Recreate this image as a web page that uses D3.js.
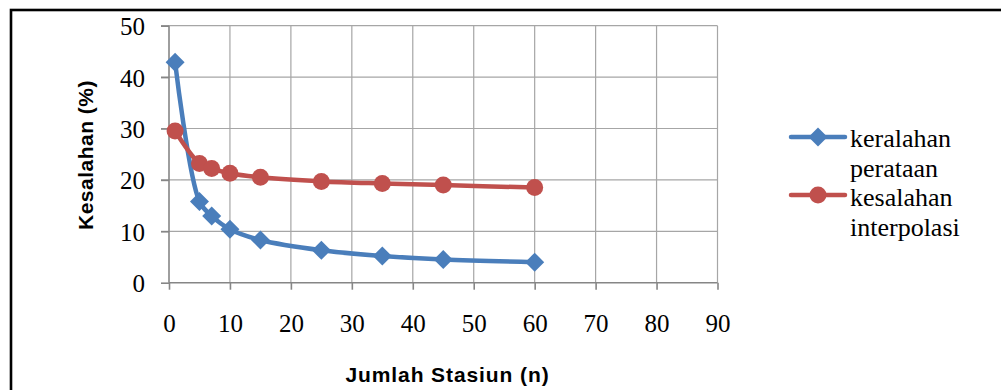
<!DOCTYPE html>
<html><head><meta charset="utf-8">
<script src="https://cdn.jsdelivr.net/npm/d3@7"></script>
<style>body{margin:0;background:#fff;} svg{display:block;}</style>
</head><body>
<svg id="c" width="1001" height="390"></svg>
<script>
const stations = [1, 5, 7, 10, 15, 25, 35, 45, 60];
const perataan = [42.9, 15.8, 13.0, 10.4, 8.3, 6.3, 5.2, 4.5, 4.0];
const interpolasi = [29.5, 23.2, 22.2, 21.3, 20.5, 19.7, 19.3, 19.0, 18.5];
const seriesNames = ["keralahan perataan", "kesalahan interpolasi"];
const legendLines = [["keralahan", "perataan"], ["kesalahan", "interpolasi"]];
const xTicks = [0, 10, 20, 30, 40, 50, 60, 70, 80, 90];
const yTicks = [0, 10, 20, 30, 40, 50];
const xTitle = "Jumlah Stasiun (n)";
const yTitle = "Kesalahan (%)";

const svg = d3.select("#c");
const blue = "#4A7EBB", red = "#C0504D";
const x = d3.scaleLinear().domain([0, 90]).range([169, 717.5]);
const y = d3.scaleLinear().domain([0, 50]).range([282.7, 25.7]);

// outer border
svg.append("rect").attr("x", 11).attr("y", 10).attr("width", 1010).attr("height", 400)
  .attr("fill", "none").attr("stroke", "#000").attr("stroke-width", 2.6);

// gridlines
svg.append("g").selectAll("line").data(yTicks.filter(d => d > 0)).join("line")
  .attr("x1", 161).attr("x2", x(90)).attr("y1", d => y(d)).attr("y2", d => y(d))
  .attr("stroke", "#a6a6a6").attr("stroke-width", 1.2);
svg.append("g").selectAll("line").data(xTicks.filter(d => d > 0)).join("line")
  .attr("x1", d => x(d)).attr("x2", d => x(d)).attr("y1", y(50)).attr("y2", y(0))
  .attr("stroke", "#a6a6a6").attr("stroke-width", 1.2);

// axes
const xAxis = d3.axisBottom(x).tickValues(xTicks).tickSize(7).tickFormat(d3.format("d"));
const gx = svg.append("g").attr("transform", `translate(0,${y(0)})`).call(xAxis);
gx.select(".domain").attr("stroke", "#868686").attr("stroke-width", 1.6).attr("d", `M${x(0)},0H${x(90)}`);
gx.selectAll(".tick line").attr("stroke", "#868686").attr("stroke-width", 1.6);
gx.selectAll(".tick text").attr("font-family", "Liberation Serif, Times New Roman, serif")
  .attr("font-size", 25).attr("fill", "#000").attr("y", 0).attr("dy", 0)
  .attr("transform", "translate(0,49)");

const yAxis = d3.axisLeft(y).tickValues(yTicks).tickSize(8).tickFormat(d3.format("d"));
const gy = svg.append("g").attr("transform", `translate(${x(0)},0)`).call(yAxis);
gy.select(".domain").attr("stroke", "#868686").attr("stroke-width", 1.6).attr("d", `M0,${y(50)}V${y(0)}`);
gy.selectAll(".tick line").attr("stroke", "#868686").attr("stroke-width", 1.6);
gy.selectAll(".tick text").attr("font-family", "Liberation Serif, Times New Roman, serif")
  .attr("font-size", 25).attr("fill", "#000").attr("x", -24).attr("dy", 0)
  .attr("transform", "translate(0,9)");

// titles
svg.append("text").attr("x", 447.5).attr("y", 382).attr("text-anchor", "middle")
  .attr("font-family", "Liberation Sans, Arial, sans-serif").attr("font-weight", "bold")
  .attr("font-size", 21).attr("letter-spacing", 0.9).text(xTitle);
svg.append("text").attr("transform", "translate(93,155) rotate(-90)").attr("text-anchor", "middle")
  .attr("font-family", "Liberation Sans, Arial, sans-serif").attr("font-weight", "bold")
  .attr("font-size", 21).attr("letter-spacing", 0.5).text(yTitle);

// series
const line = d3.line().x(d => x(d[0])).y(d => y(d[1])).curve(d3.curveCatmullRom.alpha(0.5));
const data = [
  {vals: stations.map((s, i) => [s, perataan[i]]), color: blue, sym: "diamond"},
  {vals: stations.map((s, i) => [s, interpolasi[i]]), color: red, sym: "circle"}
];
function marker(g, sym, color, cx, cy) {
  if (sym === "circle") {
    g.append("circle").attr("cx", cx).attr("cy", cy).attr("r", 8.5).attr("fill", color);
  } else {
    g.append("path").attr("d", `M${cx},${cy-9.5}L${cx+9.5},${cy}L${cx},${cy+9.5}L${cx-9.5},${cy}Z`).attr("fill", color);
  }
}
data.forEach(s => {
  svg.append("path").attr("d", line(s.vals)).attr("fill", "none")
    .attr("stroke", s.color).attr("stroke-width", 4.5).attr("stroke-linejoin", "round").attr("stroke-linecap", "round");
  const g = svg.append("g");
  s.vals.forEach(v => marker(g, s.sym, s.color, x(v[0]), y(v[1])));
});

// legend
const legY = [137, 195];
const legBase = [[147, 177], [206, 236]];
data.forEach((s, i) => {
  svg.append("line").attr("x1", 791).attr("x2", 845).attr("y1", legY[i]).attr("y2", legY[i])
    .attr("stroke", s.color).attr("stroke-width", 4.5).attr("stroke-linecap", "round");
  marker(svg, s.sym, s.color, 818, legY[i]);
  legendLines[i].forEach((t, j) => {
    svg.append("text").attr("x", 850).attr("y", legBase[i][j])
      .attr("font-family", "Liberation Serif, Times New Roman, serif").attr("font-size", 26)
      .attr("fill", "#000").text(t);
  });
});
</script>
</body></html>
